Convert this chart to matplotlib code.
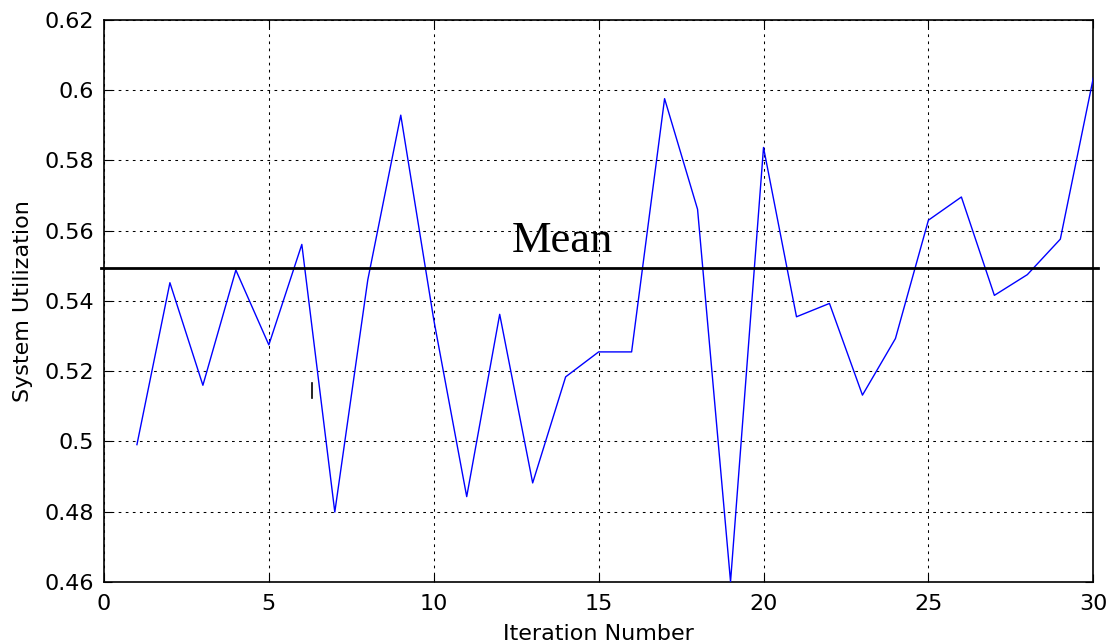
import numpy as np
import matplotlib
matplotlib.use("Agg")
from matplotlib import pyplot as plt

# System utilization per iteration
iterations = list(range(1, 31))
utilization = [0.4991, 0.5452, 0.5160, 0.5488, 0.5275, 0.5561, 0.4799, 0.5460,
               0.5929, 0.5347, 0.4843, 0.5362, 0.4882, 0.5184, 0.5255, 0.5255,
               0.5976, 0.5661, 0.4601, 0.5837, 0.5355, 0.5393, 0.5132, 0.5293,
               0.5630, 0.5696, 0.5416, 0.5475, 0.5576, 0.6035]
meanLevel = 0.5493

xTicks = [0, 5, 10, 15, 20, 25, 30]
yTicks = [0.46, 0.48, 0.5, 0.52, 0.54, 0.56, 0.58, 0.6, 0.62]
yTickLabels = ['0.46', '0.48', '0.5', '0.52', '0.54', '0.56', '0.58', '0.6', '0.62']

# stray cursor mark left on the figure
cursorX = [6.32, 6.32]
cursorY = [0.5123, 0.5166]

plt.rcParams['font.family'] = 'DejaVu Sans'
plt.rcParams['font.size'] = 16

fig = plt.figure(figsize=(11.13, 6.44), dpi=100)
ax = fig.add_axes([0.0934, 0.0963, 0.8889, 0.8727])

gridStyle = (0, (2.6, 4.2))
ax.grid(True, color='black', linewidth=0.75, linestyle=gridStyle)
ax.set_axisbelow(True)

ax.plot(iterations, utilization, color='#0000ff', linewidth=1.0, zorder=3)
ax.plot([-0.1, 30.15], [meanLevel, meanLevel], color='black', linewidth=2.0,
        clip_on=False, zorder=4)
ax.text(12.37, 0.5538, 'Mean', family='Liberation Serif', fontsize=32,
        ha='left', va='baseline', zorder=5)
ax.plot(cursorX, cursorY, color='black', linewidth=1.2, zorder=5)

ax.set_xlim(0, 30)
ax.set_ylim(0.46, 0.62)
ax.set_xticks(xTicks)
ax.set_yticks(yTicks)
ax.set_yticklabels(yTickLabels)

ax.tick_params(direction='in', length=6, width=0.8, top=True, right=True)
ax.tick_params(axis='x', pad=9)
ax.tick_params(axis='y', pad=7)

for s in ax.spines.values():
    s.set_linewidth(1.2)

ax.set_xlabel('Iteration Number')
ax.set_ylabel('System Utilization')
ax.xaxis.set_label_coords(0.5, -0.0747)
ax.yaxis.set_label_coords(-0.0718, 0.5)

plt.savefig('out.png', dpi=100)
